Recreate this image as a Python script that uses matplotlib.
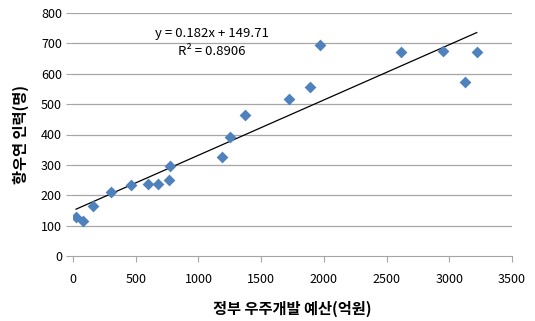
import matplotlib
matplotlib.use("Agg")
import matplotlib.pyplot as plt
import numpy as np

plt.rcParams['font.family'] = ['Noto Sans CJK KR', 'DejaVu Sans']

budget = [24, 80, 160, 303, 462, 598, 678, 765, 774, 1188, 1252, 1372,
          1720, 1893, 1972, 2616, 2950, 3128, 3219]
staff = [128, 115, 164, 210, 233, 237, 237, 250, 296, 325, 391, 464,
         516, 558, 694, 672, 674, 573, 670]
slope, intercept = 0.182, 149.71
eq_text = "y = 0.182x + 149.71"
r2_text = "R² = 0.8906"
xticks = [0, 500, 1000, 1500, 2000, 2500, 3000, 3500]
yticks = [0, 100, 200, 300, 400, 500, 600, 700, 800]
xlabel = "정부 우주개발 예산(억원)"
ylabel = "항우연 인력(명)"

fig = plt.figure(figsize=(5.35, 3.21), dpi=100)
ax = fig.add_axes([73/535, 1-256/321, (512-73)/535, (256-13)/321])

for y in yticks[1:]:
    ax.axhline(y, color='#a6a6a6', lw=0.9, zorder=0)

xs = np.array([min(budget), max(budget)])
ax.plot(xs, slope*xs + intercept, color='black', lw=0.9, zorder=2)
ax.scatter(budget, staff, marker='D', s=36, color='#4F81BD', zorder=3, linewidths=0)

ax.set_xlim(0, 3500)
ax.set_ylim(0, 800)
ax.set_xticks(xticks)
ax.set_yticks(yticks)
for s in ['top', 'right', 'left']:
    ax.spines[s].set_visible(False)
ax.spines['bottom'].set_color('#a6a6a6')
ax.tick_params(axis='x', direction='out', length=4, color='#a6a6a6', labelsize=9, pad=8)
ax.tick_params(axis='y', direction='out', length=5, color='#a6a6a6', labelsize=9, pad=3)

ax.text(1108, 734, eq_text, ha='center', va='center', fontsize=9.5)
ax.text(1108, 672, r2_text, ha='center', va='center', fontsize=9.5)

fig.text(292/535, 1-309/321, xlabel, ha='center', va='center', fontsize=11, fontweight='bold')
fig.text(21/535, 1-134/321, ylabel, ha='center', va='center', fontsize=11, fontweight='bold', rotation=90)

fig.savefig('out.png', dpi=100)
